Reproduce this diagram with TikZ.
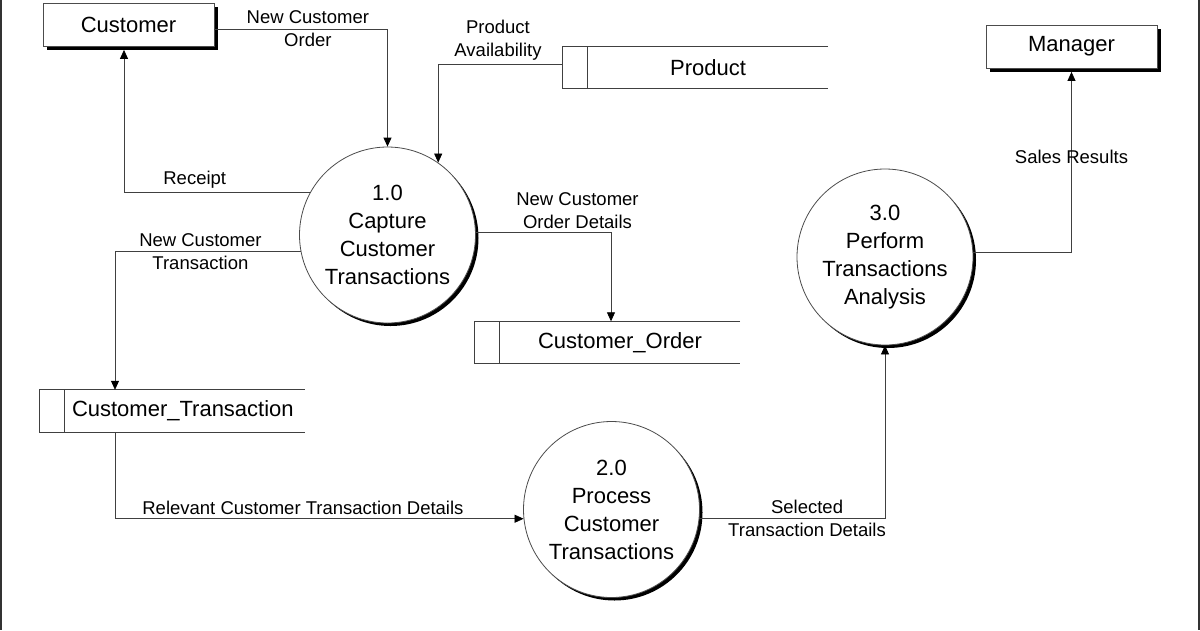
\documentclass[tikz,border=0pt]{standalone}
\usepackage{fontspec}
\setmainfont{Liberation Sans}
\usetikzlibrary{arrows.meta,shadows}
\begin{document}
\begin{tikzpicture}[x=1pt,y=-1pt,>={Triangle[length=9pt,width=8pt,color=black]},
  proc/.style={circle,draw=black!70,line width=.8pt,fill=white,minimum size=176pt,inner sep=0pt,align=center,
    font=\fontsize{22}{28}\selectfont,drop shadow={shadow xshift=3pt,shadow yshift=-3pt,fill=black,opacity=1}},
  ext/.style={rectangle,draw=black!70,line width=.8pt,fill=white,minimum width=171pt,minimum height=43pt,
    font=\fontsize{22}{27}\selectfont,drop shadow={shadow xshift=3.5pt,shadow yshift=-3.5pt,fill=black,opacity=1}},
  store/.style={minimum width=240pt,minimum height=42pt,inner sep=0pt,font=\fontsize{22}{27}\selectfont},
  flow/.style={->,draw=black!75,line width=.8pt},
  lbl/.style={font=\fontsize{18.5}{23}\selectfont,align=center}]
\useasboundingbox (0,0) rectangle (1200,630);
\draw[line width=1.5pt,black!80] (1,0) -- (1,630) (1199,0) -- (1199,630);

% external entities
\node[ext] (cust) at (128.5,24.5) {Customer};
\node[ext] (mgr)  at (1071.5,46.5) {Manager};

% processes
\node[proc] (c1) at (387.5,235)   {1.0\\Capture\\Customer\\Transactions};
\node[proc] (c2) at (611.5,509.5) {2.0\\Process\\Customer\\Transactions};
\node[proc] (c3) at (885,257)     {3.0\\Perform\\Transactions\\Analysis};

% data stores
\node[store] (prod) at (708,67.5) {Product};
\node[store] (co)   at (620,342.5) {Customer\_Order};
\node[store,text width=225pt,align=left] (ct) at (184.5,411) {Customer\_Transaction};
\foreach \s in {prod,co,ct}
  \draw[line width=.8pt,black!75] (\s.north east) -- ([xshift=-25pt]\s.north west)
    -- ([xshift=-25pt]\s.south west) -- (\s.south east) (\s.north west) -- (\s.south west);

% flows
\draw[flow] ([yshift=-4.5pt]cust.east) -| node[lbl,pos=.27]{New Customer\\Order} (c1.north);
\draw[flow,shorten >=3.5pt] (c1.151) -| node[lbl,above,pos=.31]{Receipt} ([xshift=-4.5pt]cust.south);
\draw[flow] ([xshift=-25pt,yshift=3.5pt]prod.west) -| node[lbl,above,pos=.26]{Product\\Availability} (c1.55);
\draw[flow] (c1.2) -| node[lbl,above,pos=.376]{New Customer\\Order Details} ([xshift=-9pt]co.north);
\draw[flow] (c1.191) -| node[lbl,pos=.27]{New Customer\\Transaction} ([xshift=-69.5pt]ct.north);
\draw[flow] ([xshift=-69.5pt]ct.south) |- node[lbl,above,pos=.73]{Relevant Customer Transaction Details} (c2.186);
\draw[flow] (c2.354) -| node[lbl,pos=.29]{Selected\\Transaction Details} (c3.south);
\draw[flow,shorten >=3.5pt] (c3.3) -| node[lbl,pos=.76]{Sales Results} (mgr.south);
\end{tikzpicture}
\end{document}
